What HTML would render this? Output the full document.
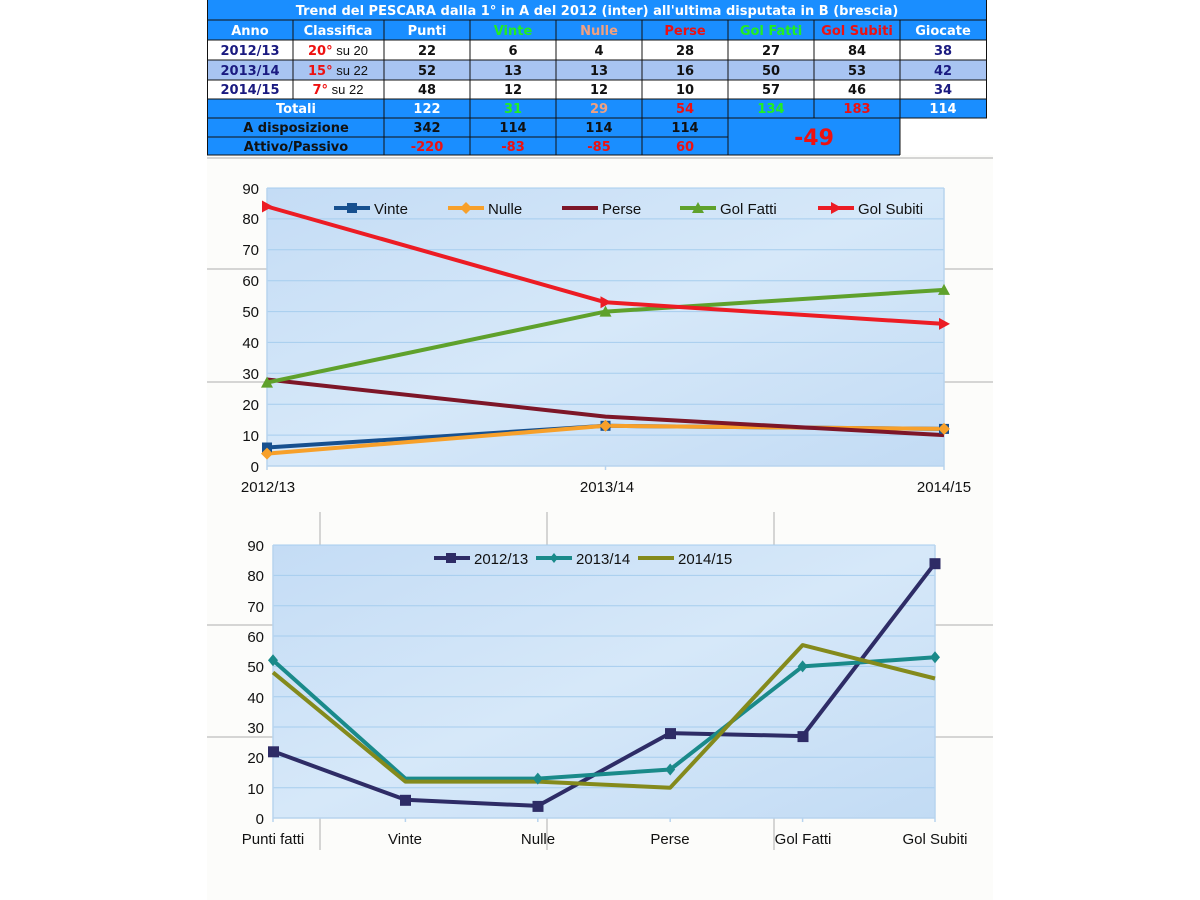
<!DOCTYPE html>
<html><head><meta charset="utf-8"><style>
html,body{margin:0;padding:0;background:#fff;}
svg{display:block;}
.t{font-family:"DejaVu Sans",sans-serif;font-weight:bold;font-size:13px;text-anchor:middle;}
.a{font-family:"Liberation Sans",sans-serif;font-size:15px;fill:#111;}
</style></head><body>
<svg width="1200" height="900" viewBox="0 0 1200 900" xmlns="http://www.w3.org/2000/svg">
<defs>
<linearGradient id="bg" x1="0" y1="0" x2="1" y2="1">
<stop offset="0" stop-color="#c4dcf5"/><stop offset="0.5" stop-color="#d6e8f9"/><stop offset="1" stop-color="#c2dbf4"/>
</linearGradient>
</defs>
<rect x="207" y="155" width="786" height="745" fill="#fcfcfa"/>
<!-- page gray lines -->
<g stroke="#c8c8c8" stroke-width="1.5">
<line x1="207" y1="158" x2="993" y2="158"/>
<line x1="207" y1="269" x2="993" y2="269"/>
<line x1="207" y1="382" x2="993" y2="382"/>
<line x1="207" y1="625" x2="993" y2="625"/>
<line x1="207" y1="737" x2="993" y2="737"/>
<line x1="320" y1="512" x2="320" y2="850"/>
<line x1="547" y1="512" x2="547" y2="850"/>
<line x1="774" y1="512" x2="774" y2="850"/>
</g>

<!-- TABLE -->
<rect x="207" y="0" width="780" height="118" fill="#1a8eff"/>
<rect x="207" y="118" width="693" height="37" fill="#1a8eff"/>
<rect x="207" y="40" width="780" height="20" fill="#fff"/>
<rect x="207" y="60" width="780" height="20" fill="#a8c4f2"/>
<rect x="207" y="80" width="780" height="19" fill="#fff"/>
<g stroke="#111" stroke-width="1">
<line x1="207" y1="20" x2="987" y2="20"/>
<line x1="207" y1="40" x2="987" y2="40"/>
<line x1="207" y1="60" x2="987" y2="60"/>
<line x1="207" y1="80" x2="987" y2="80"/>
<line x1="207" y1="99" x2="987" y2="99"/>
<line x1="207" y1="118" x2="987" y2="118"/>
<line x1="207" y1="137" x2="728" y2="137"/>
<line x1="207" y1="155" x2="900" y2="155"/>
<line x1="207.5" y1="0" x2="207.5" y2="155"/>
<line x1="986.5" y1="0" x2="986.5" y2="118"/>
<line x1="900" y1="99" x2="900" y2="155"/>
<line x1="293" y1="20" x2="293" y2="99"/>
<line x1="384" y1="20" x2="384" y2="155"/>
<line x1="470" y1="20" x2="470" y2="155"/>
<line x1="556" y1="20" x2="556" y2="155"/>
<line x1="642" y1="20" x2="642" y2="155"/>
<line x1="728" y1="20" x2="728" y2="155"/>
<line x1="814" y1="20" x2="814" y2="118"/>
<line x1="900" y1="20" x2="900" y2="118"/>
</g>
<text class="t" x="597" y="15" fill="#fff">Trend del PESCARA dalla 1° in A del 2012 (inter) all'ultima disputata in B (brescia)</text>
<g class="t">
<text x="250" y="35" fill="#fff" class="t">Anno</text>
<text x="338" y="35" fill="#fff" class="t">Classifica</text>
<text x="427" y="35" fill="#fff" class="t">Punti</text>
<text x="513" y="35" fill="#22ee22" class="t">Vinte</text>
<text x="599" y="35" fill="#f0a080" class="t">Nulle</text>
<text x="685" y="35" fill="#ee1111" class="t">Perse</text>
<text x="771" y="35" fill="#22ee22" class="t">Gol Fatti</text>
<text x="857" y="35" fill="#ee1111" class="t">Gol Subiti</text>
<text x="943" y="35" fill="#fff" class="t">Giocate</text>
</g>
<g>
<text class="t" x="250" y="55" fill="#1a1a80">2012/13</text>
<text class="t" x="250" y="75" fill="#1a1a80">2013/14</text>
<text class="t" x="250" y="94" fill="#1a1a80">2014/15</text>
<text class="t" x="338" y="55"><tspan fill="#ee1111">20°</tspan><tspan fill="#111" font-weight="normal" font-family="Liberation Sans"> su 20</tspan></text>
<text class="t" x="338" y="75"><tspan fill="#ee1111">15°</tspan><tspan fill="#111" font-weight="normal" font-family="Liberation Sans"> su 22</tspan></text>
<text class="t" x="338" y="94"><tspan fill="#ee1111">7°</tspan><tspan fill="#111" font-weight="normal" font-family="Liberation Sans"> su 22</tspan></text>
</g>
<g fill="#111">
<text class="t" x="427" y="55">22</text><text class="t" x="513" y="55">6</text><text class="t" x="599" y="55">4</text><text class="t" x="685" y="55">28</text><text class="t" x="771" y="55">27</text><text class="t" x="857" y="55">84</text><text class="t" x="943" y="55" fill="#1a1a80">38</text>
<text class="t" x="427" y="75">52</text><text class="t" x="513" y="75">13</text><text class="t" x="599" y="75">13</text><text class="t" x="685" y="75">16</text><text class="t" x="771" y="75">50</text><text class="t" x="857" y="75">53</text><text class="t" x="943" y="75" fill="#1a1a80">42</text>
<text class="t" x="427" y="94">48</text><text class="t" x="513" y="94">12</text><text class="t" x="599" y="94">12</text><text class="t" x="685" y="94">10</text><text class="t" x="771" y="94">57</text><text class="t" x="857" y="94">46</text><text class="t" x="943" y="94" fill="#1a1a80">34</text>
</g>
<text class="t" x="296" y="113" fill="#fff">Totali</text>
<text class="t" x="427" y="113" fill="#fff">122</text>
<text class="t" x="513" y="113" fill="#22ee22">31</text>
<text class="t" x="599" y="113" fill="#f0a080">29</text>
<text class="t" x="685" y="113" fill="#ee1111">54</text>
<text class="t" x="771" y="113" fill="#22ee22">134</text>
<text class="t" x="857" y="113" fill="#ee1111">183</text>
<text class="t" x="943" y="113" fill="#fff">114</text>
<g fill="#111">
<text class="t" x="296" y="132">A disposizione</text>
<text class="t" x="296" y="151">Attivo/Passivo</text>
<text class="t" x="427" y="132">342</text><text class="t" x="513" y="132">114</text><text class="t" x="599" y="132">114</text><text class="t" x="685" y="132">114</text>
</g>
<text class="t" x="427" y="151" fill="#ee1111" font-weight="normal">-220</text>
<text class="t" x="513" y="151" fill="#ee1111" font-weight="normal">-83</text>
<text class="t" x="599" y="151" fill="#ee1111" font-weight="normal">-85</text>
<text class="t" x="685" y="151" fill="#ee1111" font-weight="normal">60</text>
<text class="t" x="814" y="145" fill="#ee1111" style="font-size:22px">-49</text>

<!-- CHART 1 -->
<rect x="267" y="188" width="677" height="278" fill="url(#bg)"/>
<g stroke="#a6cdee" stroke-width="1">
<line x1="267" y1="435.1" x2="944" y2="435.1"/><line x1="267" y1="404.2" x2="944" y2="404.2"/><line x1="267" y1="373.3" x2="944" y2="373.3"/><line x1="267" y1="342.4" x2="944" y2="342.4"/><line x1="267" y1="311.6" x2="944" y2="311.6"/><line x1="267" y1="280.7" x2="944" y2="280.7"/><line x1="267" y1="249.8" x2="944" y2="249.8"/><line x1="267" y1="218.9" x2="944" y2="218.9"/><line x1="267" y1="188" x2="944" y2="188"/>
</g>
<g stroke="#b8d4ee" stroke-width="1.5">
<line x1="267" y1="188" x2="267" y2="470"/><line x1="267" y1="466" x2="944" y2="466"/><line x1="605.5" y1="466" x2="605.5" y2="470"/><line x1="944" y1="188" x2="944" y2="470"/>
</g>
<g class="a" text-anchor="end">
<text x="259" y="472">0</text><text x="259" y="441">10</text><text x="259" y="410">20</text><text x="259" y="379">30</text><text x="259" y="348">40</text><text x="259" y="317">50</text><text x="259" y="286">60</text><text x="259" y="255">70</text><text x="259" y="224">80</text><text x="259" y="194">90</text>
</g>
<g class="a" text-anchor="middle">
<text x="268" y="492">2012/13</text><text x="607" y="492">2013/14</text><text x="944" y="492">2014/15</text>
</g>
<g fill="none" stroke-width="4" stroke-linejoin="round">
<polyline stroke="#17508f" points="267,447.5 605.5,425.8 944,428.9"/>
<polyline stroke="#f7a02a" points="267,453.6 605.5,425.8 944,428.9"/>
<polyline stroke="#7d1628" points="267,379.5 605.5,416.6 944,435.1"/>
<polyline stroke="#5fa12c" points="267,382.6 605.5,311.6 944,289.9"/>
<polyline stroke="#ec1c24" points="267,206.5 605.5,302.3 944,323.9"/>
</g>
<g fill="#17508f"><rect x="262" y="442.5" width="10" height="10"/><rect x="600.5" y="420.8" width="10" height="10"/><rect x="939" y="423.9" width="10" height="10"/></g>
<g fill="#f7a02a"><polygon points="267,447.6 273,453.6 267,459.6 261,453.6"/><polygon points="605.5,419.8 611.5,425.8 605.5,431.8 599.5,425.8"/><polygon points="944,422.9 950,428.9 944,434.9 938,428.9"/></g>
<g fill="#5fa12c"><polygon points="267,376.6 273,387.6 261,387.6"/><polygon points="605.5,305.6 611.5,316.6 599.5,316.6"/><polygon points="944,283.9 950,294.9 938,294.9"/></g>
<g fill="#ec1c24"><polygon points="262,200.5 273,206.5 262,212.5"/><polygon points="600.5,296.3 611.5,302.3 600.5,308.3"/><polygon points="939,317.9 950,323.9 939,329.9"/></g>
<!-- legend 1 -->
<g stroke-width="4">
<line x1="334" y1="208" x2="370" y2="208" stroke="#17508f"/><rect x="347" y="203" width="10" height="10" fill="#17508f"/>
<line x1="448" y1="208" x2="484" y2="208" stroke="#f7a02a"/><polygon points="466,202 472,208 466,214 460,208" fill="#f7a02a"/>
<line x1="562" y1="208" x2="598" y2="208" stroke="#7d1628"/>
<line x1="680" y1="208" x2="716" y2="208" stroke="#5fa12c"/><polygon points="698,202 704,213 692,213" fill="#5fa12c"/>
<line x1="818" y1="208" x2="854" y2="208" stroke="#ec1c24"/><polygon points="831,202 842,208 831,214" fill="#ec1c24"/>
</g>
<g class="a"><text x="374" y="214">Vinte</text><text x="488" y="214">Nulle</text><text x="602" y="214">Perse</text><text x="720" y="214">Gol Fatti</text><text x="858" y="214">Gol Subiti</text></g>

<!-- CHART 2 -->
<rect x="273" y="545" width="662" height="273" fill="url(#bg)"/>
<g stroke="#a6cdee" stroke-width="1">
<line x1="273" y1="787.7" x2="935" y2="787.7"/><line x1="273" y1="757.3" x2="935" y2="757.3"/><line x1="273" y1="727" x2="935" y2="727"/><line x1="273" y1="696.7" x2="935" y2="696.7"/><line x1="273" y1="666.4" x2="935" y2="666.4"/><line x1="273" y1="636" x2="935" y2="636"/><line x1="273" y1="605.7" x2="935" y2="605.7"/><line x1="273" y1="575.4" x2="935" y2="575.4"/><line x1="273" y1="545" x2="935" y2="545"/>
</g>
<g stroke="#b8d4ee" stroke-width="1.5">
<line x1="273" y1="545" x2="273" y2="822"/><line x1="273" y1="818" x2="935" y2="818"/><line x1="935" y1="545" x2="935" y2="822"/>
<line x1="405.4" y1="818" x2="405.4" y2="822"/><line x1="537.8" y1="818" x2="537.8" y2="822"/><line x1="670.2" y1="818" x2="670.2" y2="822"/><line x1="802.6" y1="818" x2="802.6" y2="822"/>
</g>
<g class="a" text-anchor="end">
<text x="264" y="824">0</text><text x="264" y="794">10</text><text x="264" y="763">20</text><text x="264" y="733">30</text><text x="264" y="703">40</text><text x="264" y="672">50</text><text x="264" y="642">60</text><text x="264" y="612">70</text><text x="264" y="581">80</text><text x="264" y="551">90</text>
</g>
<g class="a" text-anchor="middle">
<text x="273" y="844">Punti fatti</text><text x="405" y="844">Vinte</text><text x="538" y="844">Nulle</text><text x="670" y="844">Perse</text><text x="803" y="844">Gol Fatti</text><text x="935" y="844">Gol Subiti</text>
</g>
<g fill="none" stroke-width="4" stroke-linejoin="round">
<polyline stroke="#2e2c66" points="273,751.3 405.4,799.8 537.8,805.9 670.2,733.1 802.6,736.1 935,563.2"/>
<polyline stroke="#1a8a8a" points="273,660.3 405.4,778.6 537.8,778.6 670.2,769.5 802.6,666.4 935,657.3"/>
<polyline stroke="#848a1c" points="273,672.4 405.4,781.6 537.8,781.6 670.2,787.7 802.6,645.1 935,678.5"/>
</g>
<g fill="#2e2c66"><rect x="268" y="746.3" width="11" height="11"/><rect x="400" y="794.8" width="11" height="11"/><rect x="532.5" y="800.9" width="11" height="11"/><rect x="665" y="728.1" width="11" height="11"/><rect x="797.5" y="731.1" width="11" height="11"/><rect x="929.5" y="558.2" width="11" height="11"/></g>
<g fill="#1a8a8a"><polygon points="273,654.3 278,660.3 273,666.3 268,660.3"/><polygon points="537.8,772.6 542.8,778.6 537.8,784.6 532.8,778.6"/><polygon points="670.2,763.5 675.2,769.5 670.2,775.5 665.2,769.5"/><polygon points="802.6,660.4 807.6,666.4 802.6,672.4 797.6,666.4"/><polygon points="935,651.3 940,657.3 935,663.3 930,657.3"/></g>
<!-- legend 2 -->
<g stroke-width="4">
<line x1="434" y1="558" x2="470" y2="558" stroke="#2e2c66"/><rect x="446" y="553" width="10" height="10" fill="#2e2c66"/>
<line x1="536" y1="558" x2="572" y2="558" stroke="#1a8a8a"/><polygon points="554,553 558,558 554,563 550,558" fill="#1a8a8a"/>
<line x1="638" y1="558" x2="674" y2="558" stroke="#848a1c"/>
</g>
<g class="a"><text x="474" y="564">2012/13</text><text x="576" y="564">2013/14</text><text x="678" y="564">2014/15</text></g>
</svg>
</body></html>
